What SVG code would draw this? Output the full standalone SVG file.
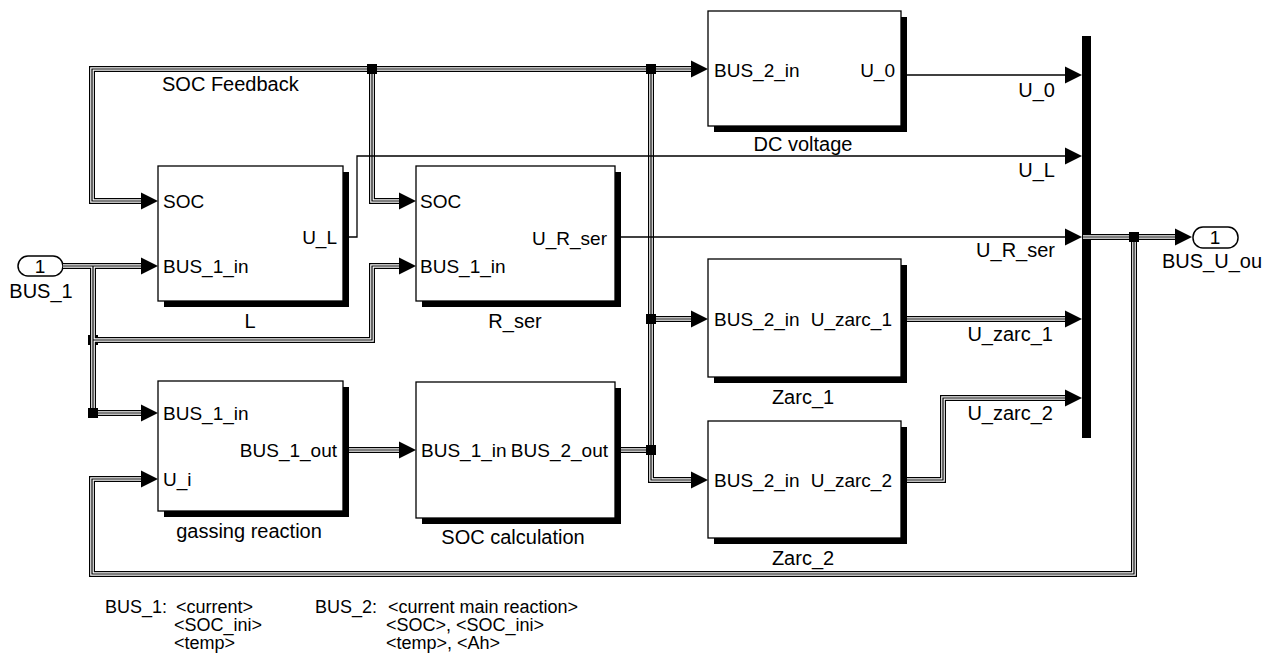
<svg xmlns="http://www.w3.org/2000/svg" xmlns:xlink="http://www.w3.org/1999/xlink" width="1270" height="668" viewBox="0 0 1270 668">
<style>
.blk{fill:#fff;stroke:#000;stroke-width:1.3}
.shd{fill:#000}
.port{fill:#fff;stroke:#000;stroke-width:1.5}
text{font-family:"Liberation Sans",Arial,Helvetica,sans-serif;fill:#000}
.lbl{font-size:20px}
.prt{font-size:19px}
.note{font-size:18px}
.e{text-anchor:end}
.m{text-anchor:middle}
.sig{fill:none;stroke:#000;stroke-width:1.3;marker-end:url(#ah)}
.bo{fill:none;stroke:#000;stroke-width:6}
.bw{fill:none;stroke:#fff;stroke-width:3.6}
.bc{fill:none;stroke:#000;stroke-width:1.2;marker-end:url(#ah)}
.jn{fill:#000}
</style>
<defs>
<marker id="ah" markerUnits="userSpaceOnUse" markerWidth="17" markerHeight="17" refX="1" refY="8.5" orient="auto" overflow="visible">
<path d="M0,0 L17,8.5 L0,17 z" fill="#000" stroke="none"/>
</marker>
<path id="b1" d="M63,266 H142"/>
<path id="b2" d="M93,266 V413 H142"/>
<path id="b3" d="M93,340 H372 V266 H400"/>
<path id="b4" d="M651,69 H92 V201 H142"/>
<path id="b5" d="M372,69 V201 H400"/>
<path id="b6" d="M621,450 H651 V69 H692"/>
<path id="b7" d="M651,319 H692"/>
<path id="b8" d="M651,450 V480 H692"/>
<path id="b9" d="M349,450 H400"/>
<path id="b10" d="M907,319 H1066"/>
<path id="b11" d="M907,480 H943 V398 H1066"/>
<path id="b12" d="M1083,237 H1176"/>
<path id="b13" d="M1134,237 V574 H92 V479 H142"/>
</defs>

<g id="L">
<rect class="shd" x="164" y="172" width="185" height="135"/>
<rect class="blk" x="158" y="166" width="185" height="135"/>
<text class="prt" x="163" y="208">SOC</text>
<text class="prt" x="163" y="273">BUS_1_in</text>
<text class="prt e" x="337" y="244">U_L</text>
<text class="lbl m" x="250" y="328">L</text>
</g>

<g id="R_ser">
<rect class="shd" x="422" y="172" width="199" height="135"/>
<rect class="blk" x="416" y="166" width="199" height="135"/>
<text class="prt" x="420" y="208">SOC</text>
<text class="prt" x="420" y="273">BUS_1_in</text>
<text class="prt e" x="607" y="245">U_R_ser</text>
<text class="lbl m" x="515" y="328">R_ser</text>
</g>

<g id="DC_voltage">
<rect class="shd" x="714" y="17" width="193" height="115"/>
<rect class="blk" x="708" y="11" width="193" height="115"/>
<text class="prt" x="714" y="77">BUS_2_in</text>
<text class="prt e" x="895" y="77">U_0</text>
<text class="lbl m" x="803" y="151">DC voltage</text>
</g>

<g id="Zarc_1">
<rect class="shd" x="714" y="265" width="193" height="118"/>
<rect class="blk" x="708" y="259" width="193" height="118"/>
<text class="prt" x="714" y="326">BUS_2_in</text>
<text class="prt e" x="892" y="326">U_zarc_1</text>
<text class="lbl m" x="803" y="404">Zarc_1</text>
</g>

<g id="Zarc_2">
<rect class="shd" x="714" y="427" width="193" height="117"/>
<rect class="blk" x="708" y="421" width="193" height="117"/>
<text class="prt" x="714" y="487">BUS_2_in</text>
<text class="prt e" x="892" y="487">U_zarc_2</text>
<text class="lbl m" x="803" y="565">Zarc_2</text>
</g>

<g id="gassing_reaction">
<rect class="shd" x="164" y="387" width="185" height="130"/>
<rect class="blk" x="158" y="381" width="185" height="130"/>
<text class="prt" x="163" y="420">BUS_1_in</text>
<text class="prt e" x="337" y="457">BUS_1_out</text>
<text class="prt" x="163" y="486">U_i</text>
<text class="lbl m" x="249" y="538">gassing reaction</text>
</g>

<g id="SOC_calculation">
<rect class="shd" x="422" y="388" width="199" height="136"/>
<rect class="blk" x="416" y="382" width="199" height="136"/>
<text class="prt" x="421" y="457">BUS_1_in</text>
<text class="prt e" x="608" y="457">BUS_2_out</text>
<text class="lbl m" x="513" y="544">SOC calculation</text>
</g>

<g id="BUS_1">
<rect class="port" x="18" y="256" width="45" height="20" rx="10"/>
<text class="prt m" x="40" y="273">1</text>
<text class="lbl m" x="41" y="298">BUS_1</text>
</g>

<g id="BUS_U_ou">
<rect class="port" x="1193" y="227" width="45" height="21" rx="10"/>
<text class="prt m" x="1215" y="244">1</text>
<text class="lbl" x="1162" y="268">BUS_U_ou</text>
</g>

<g id="connectors">
<rect class="jn" x="88" y="335" width="10" height="10"/>
<use xlink:href="#b1" class="bo"/><use xlink:href="#b2" class="bo"/><use xlink:href="#b3" class="bo"/>
<use xlink:href="#b4" class="bo"/><use xlink:href="#b5" class="bo"/><use xlink:href="#b6" class="bo"/>
<use xlink:href="#b7" class="bo"/><use xlink:href="#b8" class="bo"/><use xlink:href="#b9" class="bo"/>
<use xlink:href="#b10" class="bo"/><use xlink:href="#b11" class="bo"/><use xlink:href="#b13" class="bo"/>
<use xlink:href="#b1" class="bw"/><use xlink:href="#b2" class="bw"/><use xlink:href="#b3" class="bw"/>
<use xlink:href="#b4" class="bw"/><use xlink:href="#b5" class="bw"/><use xlink:href="#b6" class="bw"/>
<use xlink:href="#b7" class="bw"/><use xlink:href="#b8" class="bw"/><use xlink:href="#b9" class="bw"/>
<use xlink:href="#b10" class="bw"/><use xlink:href="#b11" class="bw"/><use xlink:href="#b13" class="bw"/>
<use xlink:href="#b1" class="bc"/><use xlink:href="#b2" class="bc"/><use xlink:href="#b3" class="bc"/>
<use xlink:href="#b4" class="bc"/><use xlink:href="#b5" class="bc"/><use xlink:href="#b6" class="bc"/>
<use xlink:href="#b7" class="bc"/><use xlink:href="#b8" class="bc"/><use xlink:href="#b9" class="bc"/>
<use xlink:href="#b10" class="bc"/><use xlink:href="#b11" class="bc"/><use xlink:href="#b13" class="bc"/>
<path class="sig" d="M907,75 H1066"/>
<path class="sig" d="M349,237 H357 V156 H1066"/>
<path class="sig" d="M621,237 H1066"/>
<rect class="jn" x="367" y="64" width="10" height="10"/>
<rect class="jn" x="646" y="64" width="10" height="10"/>
<rect class="jn" x="646" y="314" width="10" height="10"/>
<rect class="jn" x="646" y="445" width="10" height="10"/>
<rect class="jn" x="88" y="408" width="10" height="10"/>
</g>

<g id="Mux">
<rect x="1082" y="36" width="9" height="402" fill="#000"/>
<text class="lbl e" x="1055" y="97">U_0</text>
<text class="lbl e" x="1055" y="177">U_L</text>
<text class="lbl e" x="1055" y="257">U_R_ser</text>
<text class="lbl e" x="1053" y="341">U_zarc_1</text>
<text class="lbl e" x="1053" y="420">U_zarc_2</text>
</g>

<g id="out_bus">
<use xlink:href="#b12" class="bo"/><use xlink:href="#b12" class="bw"/><use xlink:href="#b12" class="bc"/>
<rect class="jn" x="1129" y="232" width="10" height="10"/>
</g>

<g id="labels">
<text class="lbl" x="162" y="91">SOC Feedback</text>
<text class="note" x="105" y="613">BUS_1:</text>
<text class="note" x="176" y="613">&lt;current&gt;</text>
<text class="note" x="174" y="631">&lt;SOC_ini&gt;</text>
<text class="note" x="174" y="649">&lt;temp&gt;</text>
<text class="note" x="315" y="613">BUS_2:</text>
<text class="note" x="388" y="613">&lt;current main reaction&gt;</text>
<text class="note" x="386" y="631">&lt;SOC&gt;, &lt;SOC_ini&gt;</text>
<text class="note" x="386" y="649">&lt;temp&gt;, &lt;Ah&gt;</text>
</g>
</svg>
